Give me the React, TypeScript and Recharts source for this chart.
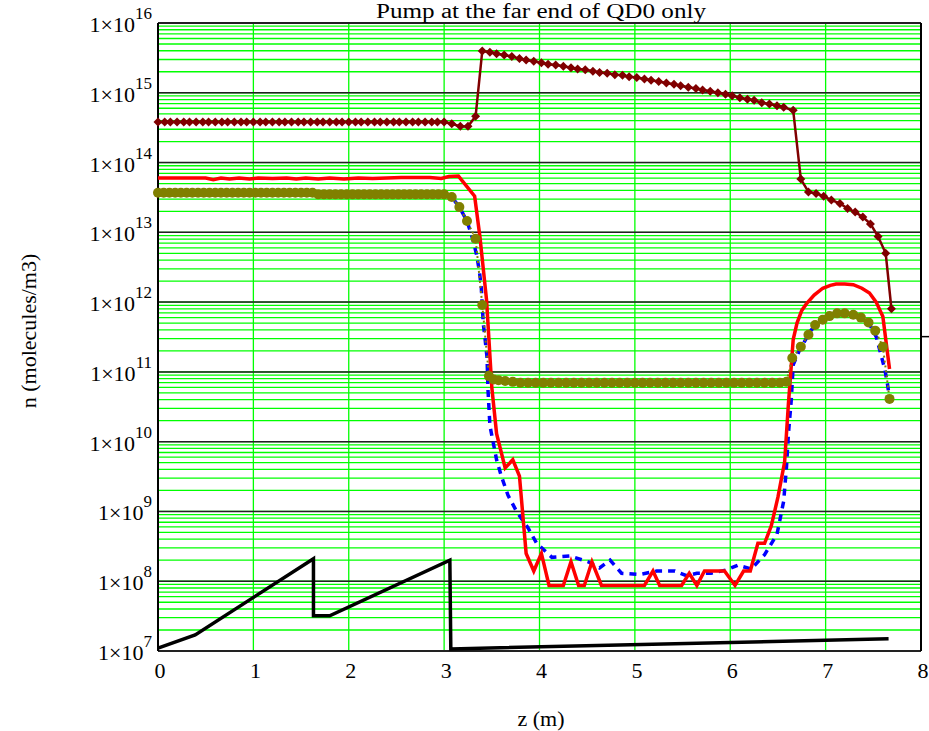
import { LineChart, Line, XAxis, YAxis, CartesianGrid, ReferenceLine } from 'recharts'

const FONT = '"Liberation Serif", "Times New Roman", serif'

// pressure along z, log scale
const xTicks = [0, 1, 2, 3, 4, 5, 6, 7, 8]
const decades = [1e7, 1e8, 1e9, 1e10, 1e11, 1e12, 1e13, 1e14, 1e15, 1e16]

const zDarkRed = [
  0, 0.07, 0.13, 0.2, 0.27, 0.33, 0.4, 0.47, 0.53, 0.6, 0.67, 0.73, 0.8, 0.87, 0.93, 1.0,
  1.07, 1.13, 1.2, 1.27, 1.33, 1.4, 1.47, 1.53, 1.6, 1.67, 1.73, 1.8, 1.87, 1.93, 2.0,
  2.07, 2.13, 2.2, 2.27, 2.33, 2.4, 2.47, 2.53, 2.6, 2.67, 2.73, 2.8, 2.87, 2.93, 3.0,
  3.08, 3.17, 3.25, 3.33,
  3.4, 3.48, 3.55, 3.63, 3.71, 3.79, 3.86, 3.94, 4.02, 4.09, 4.17, 4.25, 4.33, 4.4, 4.48,
  4.56, 4.63, 4.71, 4.79, 4.87, 4.94, 5.02, 5.1, 5.17, 5.25, 5.33, 5.41, 5.48, 5.56, 5.64,
  5.71, 5.79, 5.87, 5.95, 6.02, 6.1, 6.18, 6.25, 6.33, 6.41, 6.49, 6.56, 6.66,
  6.74, 6.82, 6.9, 6.98, 7.06, 7.15, 7.23, 7.31, 7.39, 7.47, 7.55, 7.63, 7.69,
]
const nDarkRed = [
  3.8e14, 3.8e14, 3.8e14, 3.8e14, 3.8e14, 3.8e14, 3.8e14, 3.8e14, 3.8e14, 3.8e14, 3.8e14,
  3.8e14, 3.8e14, 3.8e14, 3.8e14, 3.8e14, 3.8e14, 3.8e14, 3.8e14, 3.8e14, 3.8e14, 3.8e14,
  3.8e14, 3.8e14, 3.8e14, 3.8e14, 3.8e14, 3.8e14, 3.8e14, 3.8e14, 3.8e14, 3.8e14, 3.8e14,
  3.8e14, 3.8e14, 3.8e14, 3.8e14, 3.8e14, 3.8e14, 3.8e14, 3.8e14, 3.8e14, 3.8e14, 3.8e14,
  3.8e14, 3.8e14,
  3.6e14, 3.3e14, 3.3e14, 4.6e14,
  3.98e15, 3.8e15, 3.63e15, 3.47e15, 3.31e15, 3.09e15, 2.95e15, 2.82e15, 2.69e15, 2.57e15,
  2.51e15, 2.4e15, 2.29e15, 2.19e15, 2.14e15, 2.04e15, 1.95e15, 1.91e15, 1.82e15, 1.78e15,
  1.7e15, 1.66e15, 1.58e15, 1.51e15, 1.45e15, 1.38e15, 1.32e15, 1.26e15, 1.2e15, 1.15e15,
  1.1e15, 1.05e15, 1.0e15, 9.5e14, 9.1e14, 8.5e14, 8.1e14, 7.8e14, 7.2e14, 6.9e14, 6.5e14,
  6.2e14, 5.6e14,
  5.8e13, 3.8e13, 3.6e13, 3.3e13, 2.9e13, 2.6e13, 2.2e13, 1.95e13, 1.66e13, 1.32e13,
  8.7e12, 5.0e12, 8.0e11,
]

const zRed = [
  0, 0.3, 0.5, 0.58, 0.66, 0.75, 0.85, 0.96, 1.05, 1.2, 1.35, 1.45, 1.55, 1.68, 1.8, 1.95,
  2.1, 2.25, 2.4, 2.55, 2.7, 2.85, 2.97, 3.05, 3.15, 3.32, 3.375, 3.445, 3.5, 3.55, 3.64,
  3.72, 3.79, 3.86, 3.94, 4.02, 4.1, 4.25, 4.33, 4.41, 4.47, 4.55, 4.65, 5.1, 5.19, 5.26,
  5.49, 5.57, 5.65, 5.73, 5.94, 6.05, 6.14, 6.21, 6.29, 6.36, 6.43, 6.5, 6.57, 6.61, 6.63,
  6.66, 6.7, 6.75, 6.8, 6.88, 6.97, 7.05, 7.11, 7.2, 7.29, 7.38, 7.46, 7.53, 7.6, 7.67,
]
const nRed = [
  6.0e13, 6.0e13, 6.0e13, 5.7e13, 6.0e13, 5.8e13, 6.0e13, 5.8e13, 6.0e13, 5.9e13, 6.0e13,
  5.8e13, 6.0e13, 5.8e13, 6.0e13, 5.8e13, 6.0e13, 5.9e13, 6.0e13, 6.1e13, 6.1e13, 6.1e13,
  5.9e13, 6.3e13, 6.4e13, 3.3e13, 8.7e12, 1.07e12, 6.0e10, 1.3e10, 4.2e9, 5.5e9, 3.2e9,
  2.5e8, 1.4e8, 2.5e8, 8.7e7, 8.7e7, 1.9e8, 8.7e7, 8.7e7, 1.9e8, 8.7e7, 8.7e7, 1.4e8, 8.7e7,
  8.7e7, 1.3e8, 8.7e7, 1.4e8, 1.4e8, 8.7e7, 1.4e8, 1.4e8, 3.5e8, 3.5e8, 6.2e8, 1.6e9, 5.1e9,
  3.5e10, 8.0e10, 2.9e11, 5.0e11, 7.6e11, 9.5e11, 1.26e12, 1.58e12, 1.74e12, 1.82e12,
  1.82e12, 1.78e12, 1.58e12, 1.35e12, 1.0e12, 6.2e11, 1.1e11,
]

const zBlue = [
  0, 1.62, 1.66, 3.0, 3.08, 3.16, 3.24, 3.3, 3.34, 3.37, 3.39, 3.41, 3.43, 3.45, 3.46, 3.48,
  3.55, 3.6, 3.67, 3.76, 3.88, 3.97, 4.13, 4.32, 4.51, 4.63, 4.74, 4.86, 5.05, 5.23, 5.42,
  5.54, 5.65, 5.8, 5.96, 6.08, 6.22, 6.36, 6.49, 6.56, 6.59, 6.61, 6.64, 6.66, 6.73, 6.85,
  6.97, 7.12, 7.29, 7.45, 7.53, 7.62, 7.65, 7.67,
]
const nBlue = [
  3.7e13, 3.7e13, 3.5e13, 3.5e13, 3.2e13, 2.3e13, 1.45e13, 8.0e12, 4.8e12, 2.75e12, 1.6e12,
  5.0e11, 2.9e11, 1.6e11, 5.5e10, 1.7e10, 5.5e9, 3.2e9, 1.7e9, 1.0e9, 5.8e8, 3.5e8, 2.2e8,
  2.3e8, 1.9e8, 1.55e8, 2.0e8, 1.3e8, 1.25e8, 1.4e8, 1.4e8, 1.2e8, 1.3e8, 1.3e8, 1.45e8,
  1.7e8, 1.5e8, 2.4e8, 4.7e8, 1.4e9, 4.4e9, 1.3e10, 4.0e10, 1.26e11, 2.1e11, 4.0e11, 5.6e11,
  6.9e11, 6.6e11, 5.1e11, 3.2e11, 1.1e11, 6.5e10, 4.1e10,
]

const zOlive = [
  0, 0.06, 0.12, 0.18, 0.24, 0.3, 0.36, 0.42, 0.48, 0.54, 0.6, 0.66, 0.72, 0.78, 0.84, 0.9,
  0.96, 1.02, 1.08, 1.14, 1.2, 1.26, 1.32, 1.38, 1.44, 1.5, 1.56, 1.62, 1.68, 1.74, 1.8,
  1.86, 1.92, 1.98, 2.04, 2.1, 2.16, 2.22, 2.28, 2.34, 2.4, 2.46, 2.52, 2.58, 2.64, 2.7,
  2.76, 2.82, 2.88, 2.94, 3.0,
  3.08, 3.16, 3.24, 3.33, 3.4, 3.47, 3.52, 3.57, 3.64, 3.72,
  3.8, 3.88, 3.96, 4.04, 4.12, 4.2, 4.28, 4.36, 4.44, 4.52, 4.6, 4.68, 4.76, 4.84, 4.92,
  5.0, 5.08, 5.16, 5.24, 5.32, 5.4, 5.48, 5.56, 5.64, 5.72, 5.8, 5.88, 5.96, 6.04, 6.12,
  6.2, 6.28, 6.36, 6.44, 6.52, 6.59,
  6.65, 6.74, 6.82, 6.89, 6.97, 7.04, 7.12, 7.2, 7.29, 7.37, 7.45, 7.52, 7.6, 7.67,
]
const nOlive = [
  3.7e13, 3.7e13, 3.7e13, 3.7e13, 3.7e13, 3.7e13, 3.7e13, 3.7e13, 3.7e13, 3.7e13, 3.7e13,
  3.7e13, 3.7e13, 3.7e13, 3.7e13, 3.7e13, 3.7e13, 3.7e13, 3.7e13, 3.7e13, 3.7e13, 3.7e13,
  3.7e13, 3.7e13, 3.7e13, 3.7e13, 3.7e13, 3.7e13,
  3.5e13, 3.5e13, 3.5e13, 3.5e13, 3.5e13, 3.5e13, 3.5e13, 3.5e13, 3.5e13, 3.5e13, 3.5e13,
  3.5e13, 3.5e13, 3.5e13, 3.5e13, 3.5e13, 3.5e13, 3.5e13, 3.5e13, 3.5e13, 3.5e13, 3.5e13,
  3.5e13,
  3.2e13, 2.3e13, 1.45e13, 8.1e12, 9.1e11, 8.7e10, 7.8e10, 7.6e10, 7.4e10, 7.2e10,
  7.0e10, 7.0e10, 7.0e10, 7.0e10, 7.0e10, 7.0e10, 7.0e10, 7.0e10, 7.0e10, 7.0e10, 7.0e10,
  7.0e10, 7.0e10, 7.0e10, 7.0e10, 7.0e10, 7.0e10, 7.0e10, 7.0e10, 7.0e10, 7.0e10, 7.0e10,
  7.0e10, 7.0e10, 7.0e10, 7.0e10, 7.0e10, 7.0e10, 7.0e10, 7.0e10, 7.0e10, 7.0e10, 7.0e10,
  7.0e10, 7.0e10, 7.2e10,
  1.58e11, 2.3e11, 3.4e11, 4.7e11, 5.6e11, 6.3e11, 6.9e11, 6.9e11, 6.6e11, 6.0e11, 5.1e11,
  3.9e11, 2.3e11, 4.1e10,
]

const zBlack = [0, 0.39, 1.63, 1.63, 1.8, 3.06, 3.07, 7.66]
const nBlack = [1.1e7, 1.7e7, 2.1e8, 3.2e7, 3.2e7, 2.0e8, 1.07e7, 1.5e7]

const zip = (z: number[], n: number[]) => z.map((v, i) => ({ z: v, n: n[i] }))

const darkRedData = zip(zDarkRed, nDarkRed)
const redData = zip(zRed, nRed)
const blueData = zip(zBlue, nBlue)
const oliveData = zip(zOlive, nOlive)
const blackData = zip(zBlack, nBlack)

// log minor grid: 2..9 in each decade
const minorTicks = decades.slice(0, -1).flatMap((d) => [2, 3, 4, 5, 6, 7, 8, 9].map((m) => m * d))
const yTicks = [...decades, ...minorTicks].sort((a, b) => a - b)

const YTick = (props: any) => {
  const { x, y, payload } = props
  const exp = Math.round(Math.log10(payload.value))
  if (!decades.includes(payload.value)) return <g />
  return (
    <text x={x - 6} y={y + 9} textAnchor="end" fontFamily={FONT} fontSize={22} fill="#000">
      1×10
      <tspan dy={-13} fontSize={17}>{exp}</tspan>
    </text>
  )
}

const XTick = (props: any) => {
  const { x, y, payload } = props
  return (
    <text x={x + 2} y={y + 27} textAnchor="middle" fontFamily={FONT} fontSize={22} fill="#000">
      {payload.value}
    </text>
  )
}

const Diamond = (props: any) => {
  const { cx, cy, index } = props
  if (cx == null || cy == null) return <g key={index} />
  return (
    <path
      key={index}
      d={`M${cx},${cy - 4.5}L${cx + 4.5},${cy}L${cx},${cy + 4.5}L${cx - 4.5},${cy}Z`}
      fill="#800000"
    />
  )
}

export default function App() {
  return (
    <div style={{ position: 'absolute', left: 0, top: 0, width: 929, height: 731, background: '#fff' }}>
      <LineChart width={929} height={731} margin={{ top: 23, right: 8, bottom: 0, left: 0 }}>
        <CartesianGrid stroke="#00ff00" strokeWidth={1.3} fill="none" />
        <XAxis
          dataKey="z"
          type="number"
          domain={[0, 8]}
          ticks={xTicks}
          interval={0}
          height={80}
          tickLine={false}
          axisLine={false}
          tickSize={0}
          tickMargin={0}
          tick={<XTick />}
          allowDuplicatedCategory={false}
        />
        <YAxis
          dataKey="n"
          type="number"
          scale="log"
          domain={[1e7, 1e16]}
          allowDataOverflow
          ticks={yTicks}
          interval={0}
          width={158}
          tickLine={false}
          axisLine={false}
          tickSize={0}
          tickMargin={0}
          tick={<YTick />}
        />
        {decades.map((d) => (
          <ReferenceLine key={d} y={d} stroke="#222" strokeWidth={d === 1e7 || d === 1e16 ? 2 : 1.5} />
        ))}
        <ReferenceLine x={0} stroke="#000" strokeWidth={2} />
        <ReferenceLine x={8} stroke="#000" strokeWidth={2} />
        <ReferenceLine
          segment={[{ x: 8, y: 3.2e11 }, { x: 8.09, y: 3.2e11 }]}
          ifOverflow="visible"
          stroke="#000"
          strokeWidth={1.5}
        />
        <Line data={blackData} dataKey="n" stroke="#000" strokeWidth={3.5} dot={false} isAnimationActive={false} />
        <Line
          data={blueData}
          dataKey="n"
          stroke="#0000ff"
          strokeWidth={3.5}
          strokeDasharray="7 6"
          dot={false}
          isAnimationActive={false}
        />
        <Line data={redData} dataKey="n" stroke="#ff0000" strokeWidth={3.5} dot={false} isAnimationActive={false} />
        <Line
          data={oliveData}
          dataKey="n"
          stroke="#808000"
          strokeWidth={2}
          strokeDasharray="2 3"
          dot={{ r: 5, fill: '#808000', stroke: 'none' }}
          isAnimationActive={false}
        />
        <Line
          data={darkRedData}
          dataKey="n"
          stroke="#800000"
          strokeWidth={2.5}
          dot={<Diamond />}
          isAnimationActive={false}
        />
      </LineChart>
      <svg width={929} height={731} style={{ position: 'absolute', left: 0, top: 0, pointerEvents: 'none' }}>
        <text
          x={541}
          y={18}
          textAnchor="middle"
          fontFamily={FONT}
          fontSize={20}
          textLength={330}
          lengthAdjust="spacingAndGlyphs"
          fill="#000"
        >
          Pump at the far end of QD0 only
        </text>
        <text
          x={0}
          y={0}
          transform="translate(36,331) rotate(-90)"
          textAnchor="middle"
          fontFamily={FONT}
          fontSize={22}
          fill="#000"
        >
          n (molecules/m3)
        </text>
        <text x={541} y={726} textAnchor="middle" fontFamily={FONT} fontSize={22} fill="#000">
          z (m)
        </text>
      </svg>
    </div>
  )
}
